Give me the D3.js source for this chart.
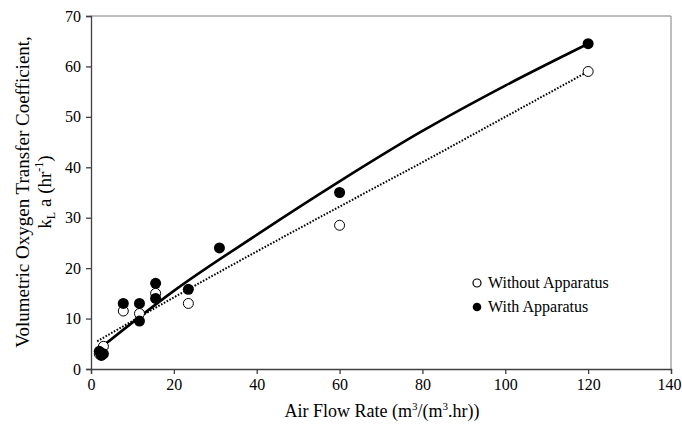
<!DOCTYPE html>
<html>
<head>
<meta charset="utf-8">
<script src="https://cdn.jsdelivr.net/npm/d3@7"></script>
<style>
  body { margin: 0; background: #fff; }
</style>
</head>
<body>
<svg id="chart" width="682" height="428"></svg>
<script>
  var withoutX = [2, 3, 7.8, 11.7, 15.6, 23.5, 60, 120];
  var withoutY = [3, 4.5, 11.5, 11, 15, 13, 28.5, 59];
  var withX = [2, 2.5, 3, 7.8, 11.7, 11.7, 15.6, 15.6, 23.5, 31, 60, 120];
  var withY = [3.5, 2.7, 3, 13, 13, 9.5, 17, 14, 15.8, 24, 35, 64.5];

  // Trendlines at a few x positions
  var trendWithX = [1.7, 20, 40, 60, 80, 100, 120];
  var trendWithY = [3.8, 15.5, 26.6, 37.2, 47.2, 56.2, 64.5];
  var trendWithoutX = [1.5, 20, 40, 60, 80, 100, 120];
  var trendWithoutY = [5.5, 14.2, 23.3, 32.2, 41, 50, 59];

  var xTicks = [0, 20, 40, 60, 80, 100, 120, 140];
  var yTicks = [0, 10, 20, 30, 40, 50, 60, 70];

  var FONT = "'Liberation Serif', 'Times New Roman', serif";
  var m = { left: 91, right: 671, top: 16, bottom: 369 };
  var svg = d3.select("#chart");

  var x = d3.scaleLinear().domain([0, 140]).range([m.left, m.right]);
  var y = d3.scaleLinear().domain([0, 70]).range([m.bottom, m.top]);

  function zip(xs, ys) {
    return xs.map(function(v, i) { return [v, ys[i]]; });
  }

  // plot area frame (top and right)
  svg.append("path")
    .attr("d", "M" + m.left + "," + m.top + "H" + m.right + "V" + m.bottom)
    .attr("fill", "none")
    .attr("stroke", "#7f7f7f")
    .attr("stroke-width", 1);

  // axes
  var xAxis = svg.append("g")
    .attr("transform", "translate(0," + m.bottom + ")")
    .call(d3.axisBottom(x).tickValues(xTicks).tickSize(5).tickPadding(5).tickFormat(d3.format("d")));
  var yAxis = svg.append("g")
    .attr("transform", "translate(" + m.left + ",0)")
    .call(d3.axisLeft(y).tickValues(yTicks).tickSize(5).tickPadding(5).tickFormat(d3.format("d")));

  [xAxis, yAxis].forEach(function(a) {
    a.attr("font-family", null).attr("font-size", null)
      .style("font-family", FONT).style("font-size", "16px");
    a.selectAll(".domain").attr("stroke", "#404040").attr("stroke-width", 1.3);
    a.selectAll(".tick line").attr("stroke", "#404040").attr("stroke-width", 1.3);
    a.selectAll(".tick text")
      .attr("fill", "#000")
      .style("font-family", FONT)
      .style("font-size", "16px");
  });
  // keep the last x label inside the frame
  xAxis.selectAll(".tick text").filter(function(d) { return d === 140; }).attr("dx", -2);

  // trendlines
  var line = d3.line()
    .x(function(d) { return x(d[0]); })
    .y(function(d) { return y(d[1]); })
    .curve(d3.curveMonotoneX);

  svg.append("path")
    .datum(zip(trendWithoutX, trendWithoutY))
    .attr("d", line)
    .attr("fill", "none")
    .attr("stroke", "#000")
    .attr("stroke-width", 2)
    .attr("stroke-dasharray", "1.6,1.6");

  svg.append("path")
    .datum(zip(trendWithX, trendWithY))
    .attr("d", line)
    .attr("fill", "none")
    .attr("stroke", "#000")
    .attr("stroke-width", 2.6);

  // points
  svg.append("g").selectAll("circle")
    .data(zip(withoutX, withoutY))
    .enter().append("circle")
    .attr("cx", function(d) { return x(d[0]); })
    .attr("cy", function(d) { return y(d[1]); })
    .attr("r", 5)
    .attr("fill", "#fff")
    .attr("stroke", "#000")
    .attr("stroke-width", 1);

  svg.append("g").selectAll("circle")
    .data(zip(withX, withY))
    .enter().append("circle")
    .attr("cx", function(d) { return x(d[0]); })
    .attr("cy", function(d) { return y(d[1]); })
    .attr("r", 5.5)
    .attr("fill", "#000");

  function label(sel, size) {
    return sel.style("font-family", FONT).style("font-size", size + "px").attr("fill", "#000");
  }

  // legend
  svg.append("circle").attr("cx", 477).attr("cy", 283).attr("r", 4)
    .attr("fill", "#fff").attr("stroke", "#000").attr("stroke-width", 1.2);
  label(svg.append("text").attr("x", 488).attr("y", 288), 16).text("Without Apparatus");
  svg.append("circle").attr("cx", 477).attr("cy", 307).attr("r", 4.3).attr("fill", "#000");
  label(svg.append("text").attr("x", 488).attr("y", 312), 16).text("With Apparatus");

  // x axis title
  var xt = label(svg.append("text"), 18)
    .attr("x", 382).attr("y", 417)
    .attr("text-anchor", "middle");
  xt.append("tspan").text("Air Flow Rate (m");
  xt.append("tspan").attr("dy", -7).style("font-size", "11px").text("3");
  xt.append("tspan").attr("dy", 7).text("/(m");
  xt.append("tspan").attr("dy", -7).style("font-size", "11px").text("3");
  xt.append("tspan").attr("dy", 7).text(".hr))");

  // y axis title (two lines)
  label(svg.append("text"), 19)
    .attr("transform", "translate(29,192) rotate(-90)")
    .attr("text-anchor", "middle")
    .text("Volumetric Oxygen Transfer Coefficient,");

  var yt = label(svg.append("text"), 19)
    .attr("transform", "translate(51,192) rotate(-90)")
    .attr("text-anchor", "middle");
  yt.append("tspan").text("k");
  yt.append("tspan").attr("dy", 4).style("font-size", "12px").text("L");
  yt.append("tspan").attr("dy", -4).text(" a (hr");
  yt.append("tspan").attr("dy", -8).style("font-size", "12px").text("-1");
  yt.append("tspan").attr("dy", 8).text(")");
</script>
</body>
</html>
